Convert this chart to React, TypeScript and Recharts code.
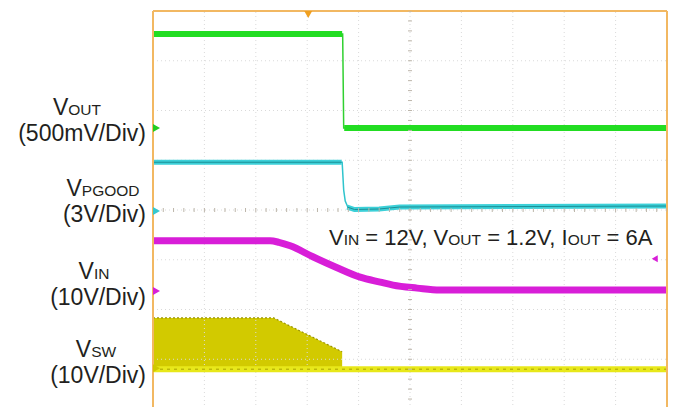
import React from 'react'
import { ComposedChart, Line, Area, Scatter, XAxis, YAxis, ReferenceLine } from 'recharts'

const W = 675
const H = 420
const FONT = '"Liberation Sans", Arial, sans-serif'
const INK = '#231f20'
const FRAME = '#f2b862'
const TICK = '#bdb6aa'
const GRID = '#dadada'

// scope screen in divisions: x 0..10 left to right, y 0..8 bottom to top
const minorX = Array.from({ length: 51 }, (_, i) => +(i * 0.2).toFixed(1))
const minorY = Array.from({ length: 41 }, (_, i) => +(i * 0.2).toFixed(1))
const gridX = [1, 2, 3, 4, 5, 6, 7, 8, 9]
const gridY = [1, 2, 3, 4, 5, 6, 7]

// VOUT (green)
const voutLine = [
  { x: 0, y: 7.54 }, { x: 3.69, y: 7.54 }, { x: 3.71, y: 5.65 }, { x: 10, y: 5.65 },
]
const voutBand = [
  { x: 0, y: 7.54 }, { x: 3.68, y: 7.54 }, { x: 3.7, y: null }, { x: 3.72, y: 5.65 }, { x: 10, y: 5.65 },
]

// VPGOOD (cyan)
const pgoodLine = [
  { x: 0, y: 4.96 }, { x: 3.68, y: 4.96 }, { x: 3.71, y: 4.4 }, { x: 3.74, y: 4.18 },
  { x: 3.79, y: 4.06 }, { x: 3.88, y: 4.0 }, { x: 4.4, y: 4.01 }, { x: 4.8, y: 4.06 }, { x: 10, y: 4.08 },
]
const pgoodBand = [
  { x: 0, y: 4.96 }, { x: 3.67, y: 4.96 }, { x: 3.7, y: null }, { x: 3.78, y: 4.06 },
  { x: 3.92, y: 4.01 }, { x: 4.4, y: 4.02 }, { x: 4.8, y: 4.06 }, { x: 10, y: 4.08 },
]

// VIN (magenta)
const vinLine = [
  { x: 0, y: 3.38 }, { x: 2.28, y: 3.38 }, { x: 2.45, y: 3.35 }, { x: 2.67, y: 3.28 },
  { x: 3.11, y: 3.06 }, { x: 3.56, y: 2.85 }, { x: 4.03, y: 2.65 }, { x: 4.42, y: 2.55 },
  { x: 4.67, y: 2.49 }, { x: 5.14, y: 2.43 }, { x: 5.58, y: 2.39 }, { x: 10, y: 2.39 },
]

// VSW (yellow) switching envelope + baseline
const vswTop = [{ x: 0, y: 1.83 }, { x: 2.35, y: 1.83 }, { x: 3.68, y: 1.15 }]
const vswLevel = 0.8
const vswBase = [{ x: 0, y: 0.8 }, { x: 10, y: 0.8 }]

// channel ground markers on the left edge, trigger markers
const groundMarks = [5.65, 3.98, 2.37, 0.82]
const MARK_COLORS = ['#22cc22', '#33c8d0', '#d81ed8', '#d0c800']
const trigPos = [{ x: 3.02, y: 8 }]
const trigLevel = [{ x: 9.82, y: 3.02 }]

const centerTicksH = minorX.map(x => ({ x, y: 4 }))
const centerTicksV = minorY.map(y => ({ x: 5, y }))

const axisIds = { xAxisId: 'b', yAxisId: 'l' }

const RightArrow = (p: any) => (
  <polygon points={`${p.cx},${p.cy - 4} ${p.cx + 7},${p.cy} ${p.cx},${p.cy + 4}`} fill={p.fill} />
)
const LeftArrow = (p: any) => (
  <polygon points={`${p.cx - 6},${p.cy} ${p.cx},${p.cy - 3.5} ${p.cx},${p.cy + 3.5}`} fill={p.fill} />
)
const DownArrow = (p: any) => (
  <polygon points={`${p.cx - 4},${p.cy} ${p.cx + 4},${p.cy} ${p.cx},${p.cy + 7}`} fill={p.fill} />
)
const VTick = (p: any) => <line x1={p.cx} x2={p.cx} y1={p.cy - 2} y2={p.cy + 2} stroke={TICK} strokeWidth={1} />
const HTick = (p: any) => <line x1={p.cx - 2} x2={p.cx + 2} y1={p.cy} y2={p.cy} stroke={TICK} strokeWidth={1} />

function Label({ cx, y1, y2, main, sub, scale }: { cx: number; y1: number; y2: number; main: string; sub: string; scale: string }) {
  return (
    <g fill={INK} fontFamily={FONT}>
      <text x={cx} y={y1} fontSize={23} textAnchor="middle">
        {main}<tspan fontSize={15.5}>{sub}</tspan>
      </text>
      <text x={146} y={y2} fontSize={23} textAnchor="end">{scale}</text>
    </g>
  )
}

export default function App() {
  return (
    <div style={{ position: 'absolute', left: 0, top: 0, width: W, height: 407, overflow: 'hidden', background: '#fff' }}>
      <ComposedChart width={W} height={H} margin={{ top: 11, right: 8, bottom: 11, left: 153 }}>
        <XAxis xAxisId="b" type="number" dataKey="x" domain={[0, 10]} ticks={minorX} interval={0}
          orientation="bottom" mirror tick={false} tickSize={4} axisLine={{ stroke: FRAME, strokeWidth: 2 }}
          tickLine={{ stroke: TICK }} allowDataOverflow />
        <XAxis xAxisId="t" type="number" dataKey="x" domain={[0, 10]} ticks={minorX} interval={0}
          orientation="top" mirror tick={false} tickSize={4} axisLine={{ stroke: FRAME, strokeWidth: 2 }}
          tickLine={{ stroke: TICK }} allowDataOverflow />
        <YAxis yAxisId="l" type="number" dataKey="y" domain={[0, 8]} ticks={minorY} interval={0}
          orientation="left" mirror tick={false} tickSize={4} axisLine={{ stroke: FRAME, strokeWidth: 2 }}
          tickLine={{ stroke: TICK }} allowDataOverflow />
        <YAxis yAxisId="r" type="number" dataKey="y" domain={[0, 8]} ticks={minorY} interval={0}
          orientation="right" mirror tick={false} tickSize={4} axisLine={{ stroke: FRAME, strokeWidth: 2 }}
          tickLine={{ stroke: TICK }} allowDataOverflow />

        {/* faint dotted graticule */}
        {gridX.map(v => (
          <ReferenceLine key={'gx' + v} {...axisIds} x={v} stroke={GRID} strokeDasharray="1 3" />
        ))}
        {gridY.map(v => (
          <ReferenceLine key={'gy' + v} {...axisIds} y={v} stroke={GRID} strokeDasharray="1 3" />
        ))}

        <Scatter {...axisIds} data={centerTicksH} shape={VTick} isAnimationActive={false} />
        <Scatter {...axisIds} data={centerTicksV} shape={HTick} isAnimationActive={false} />

        {/* VSW */}
        <Area {...axisIds} data={vswTop} dataKey="y" type="linear" baseValue={vswLevel}
          fill="#d2ca00" fillOpacity={1} stroke="#9a9400" strokeWidth={1.2} strokeDasharray="2 2"
          dot={false} activeDot={false} isAnimationActive={false} />
        <Line {...axisIds} data={vswBase} dataKey="y" type="linear" stroke="#e8e81a" strokeWidth={6}
          dot={false} activeDot={false} isAnimationActive={false} />
        <Line {...axisIds} data={vswBase} dataKey="y" type="linear" stroke="#a8a200" strokeWidth={1}
          strokeDasharray="3 4" dot={false} activeDot={false} isAnimationActive={false} />

        {/* VIN */}
        <Line {...axisIds} data={vinLine} dataKey="y" type="monotone" stroke="#d81ed8" strokeWidth={7}
          dot={false} activeDot={false} isAnimationActive={false} />

        {/* VPGOOD */}
        <Line {...axisIds} data={pgoodLine} dataKey="y" type="linear" stroke="#2fc4cc" strokeWidth={1.5}
          dot={false} activeDot={false} isAnimationActive={false} />
        <Line {...axisIds} data={pgoodBand} dataKey="y" type="linear" stroke="#3cd0d8" strokeWidth={5}
          dot={false} activeDot={false} isAnimationActive={false} />
        <Line {...axisIds} data={pgoodBand} dataKey="y" type="linear" stroke="#1c8f96" strokeWidth={1}
          dot={false} activeDot={false} isAnimationActive={false} />

        {/* VOUT */}
        <Line {...axisIds} data={voutLine} dataKey="y" type="linear" stroke="#30d030" strokeWidth={1.5}
          dot={false} activeDot={false} isAnimationActive={false} />
        <Line {...axisIds} data={voutBand} dataKey="y" type="linear" stroke="#22dd22" strokeWidth={6}
          dot={false} activeDot={false} isAnimationActive={false} />

        {groundMarks.map((y, i) => (
          <Scatter key={i} {...axisIds} data={[{ x: 0, y }]} fill={MARK_COLORS[i]} shape={RightArrow} isAnimationActive={false} />
        ))}
        <Scatter {...axisIds} data={trigPos} fill="#f0a020" shape={DownArrow} isAnimationActive={false} />
        <Scatter {...axisIds} data={trigLevel} fill="#d81ed8" shape={LeftArrow} isAnimationActive={false} />
      </ComposedChart>

      <svg width={W} height={407} style={{ position: 'absolute', left: 0, top: 0, pointerEvents: 'none' }}>
        <Label cx={77} y1={115} y2={141} main="V" sub="OUT" scale="(500mV/Div)" />
        <Label cx={103} y1={196} y2={222} main="V" sub="PGOOD" scale="(3V/Div)" />
        <Label cx={94} y1={279} y2={305} main="V" sub="IN" scale="(10V/Div)" />
        <Label cx={96} y1={357} y2={383} main="V" sub="SW" scale="(10V/Div)" />
        <text x={329} y={245} fontSize={22} fill={INK} fontFamily={FONT}>
          V<tspan fontSize={15.5}>IN</tspan> = 12V, V<tspan fontSize={15.5}>OUT</tspan> = 1.2V, I<tspan fontSize={15.5}>OUT</tspan> = 6A
        </text>
      </svg>
    </div>
  )
}
